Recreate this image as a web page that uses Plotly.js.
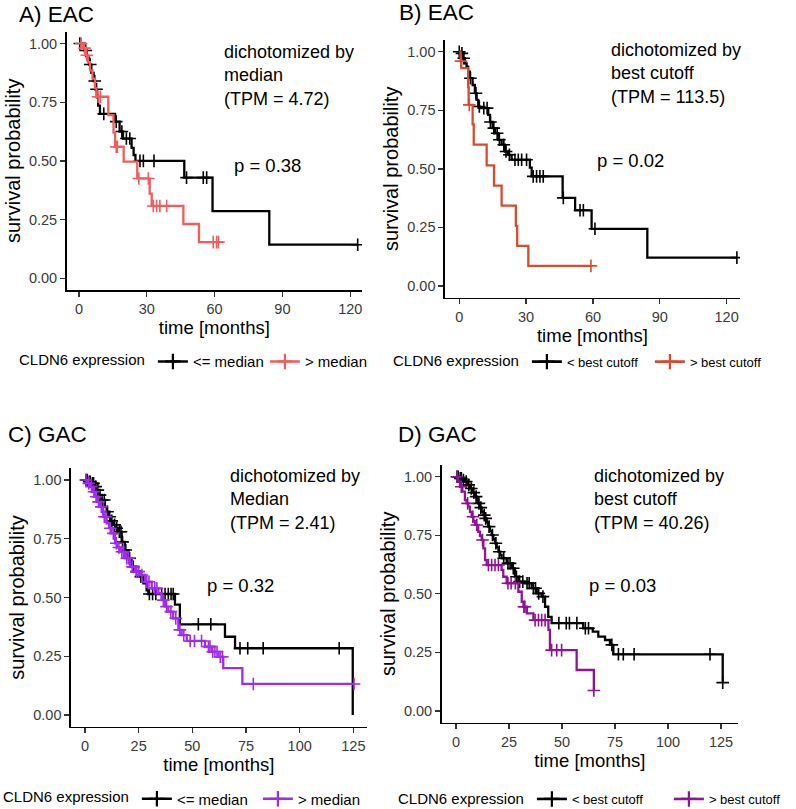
<!DOCTYPE html>
<html>
<head>
<meta charset="utf-8">
<script src="https://cdn.plot.ly/plotly-3.0.1.min.js"></script>
<style>html,body{margin:0;padding:0;background:#fff;}#chart{width:796px;height:809px;}</style>
</head>
<body>
<div id="chart"></div>
<script>
// ---------- DATA ----------
// Panel A) EAC, dichotomized by median
const A_low_eventT = [2.5, 3.5, 4.5, 5.5, 6.5, 7.2, 8.0, 8.5, 9.3, 16.0, 18.0, 19.5, 23.3, 24.2, 25.0, 46.6, 59.1, 84.2];
const A_low_eventS = [0.97, 0.94, 0.91, 0.875, 0.84, 0.805, 0.77, 0.735, 0.70, 0.667, 0.625, 0.595, 0.555, 0.525, 0.50, 0.4286, 0.2857, 0.1429];
const A_low_censT  = [0.4, 3.0, 5.0, 7.0, 7.8, 11.0, 16.5, 19.0, 21.0, 22.5, 27.0, 28.5, 33.2, 47.6, 55.0, 56.5, 123.3];
const A_high_eventT = [1.9, 3.1, 4.1, 4.9, 6.0, 7.1, 7.8, 13.0, 15.3, 16.0, 19.8, 25.8, 31.3, 32.2, 46.2, 53.1];
const A_high_eventS = [0.98, 0.95, 0.92, 0.885, 0.85, 0.81, 0.773, 0.695, 0.62, 0.56, 0.497, 0.425, 0.36, 0.308, 0.231, 0.154];
const A_high_censT  = [1.0, 2.5, 3.5, 8.5, 9.5, 16.5, 17.0, 26.5, 30.7, 32.9, 34.4, 35.8, 38.8, 59.4, 60.9, 61.7];

// Panel B) EAC, dichotomized by best cutoff
const B_low_eventT = [1.0, 1.8, 2.5, 3.3, 4.0, 4.8, 6.0, 7.0, 7.8, 8.5, 9.3, 13.0, 13.8, 15.0, 16.0, 17.5, 19.0, 20.5, 22.0, 23.5, 31.7, 32.5, 46.4, 52.0, 59.4, 84.4];
const B_low_eventS = [0.993, 0.972, 0.95, 0.936, 0.915, 0.887, 0.858, 0.823, 0.794, 0.766, 0.759, 0.73, 0.70, 0.674, 0.652, 0.624, 0.603, 0.574, 0.56, 0.539, 0.505, 0.468, 0.376, 0.323, 0.244, 0.121];
const B_low_censT  = [0.0, 1.2, 2.0, 5.0, 7.5, 9.0, 11.0, 12.5, 14.0, 15.5, 17.0, 18.0, 20.0, 21.0, 22.5, 25.0, 26.5, 28.0, 30.2, 33.2, 34.7, 36.2, 37.7, 46.7, 54.2, 55.7, 60.9, 124.6];
const B_high_eventT = [0.6, 0.9, 4.0, 4.2, 6.0, 6.5, 12.3, 15.6, 19.0, 25.4, 26.0, 31.0];
const B_high_eventS = [0.96, 0.93, 0.85, 0.773, 0.69, 0.603, 0.515, 0.428, 0.343, 0.257, 0.171, 0.086];
const B_high_censT  = [0.8, 4.5, 59.1];

// Panel C) GAC, dichotomized by median
const C_low_eventT = [1.5, 3.1, 4.3, 5.4, 6.6, 7.8, 9.3, 10.1, 10.9, 12.0, 13.2, 14.4, 15.5, 17.1, 18.6, 20.2, 21.7, 23.3, 25.6, 27.2, 28.7, 29.5, 41.9, 44.2, 65.2, 69.9, 124.7];
const C_low_eventS = [0.993, 0.986, 0.972, 0.957, 0.936, 0.915, 0.886, 0.865, 0.844, 0.826, 0.809, 0.795, 0.78, 0.737, 0.702, 0.667, 0.631, 0.61, 0.589, 0.56, 0.53, 0.515, 0.47, 0.386, 0.333, 0.284, 0.0];
const C_low_censT  = [0.5, 1.0, 2.0, 2.5, 3.5, 4.0, 5.0, 6.0, 7.0, 8.0, 9.0, 10.5, 11.5, 12.5, 13.8, 14.8, 16.0, 16.8, 17.5, 19.0, 20.8, 22.5, 24.0, 26.0, 30.0, 31.5, 33.0, 35.7, 37.3, 38.8, 40.1, 41.1, 52.8, 58.6, 72.2, 75.8, 83.0, 118.4];
const C_high_eventT = [1.2, 2.3, 3.5, 4.7, 5.8, 7.0, 8.5, 10.1, 11.2, 12.4, 14.0, 15.2, 16.3, 18.6, 21.0, 23.3, 25.6, 27.9, 31.1, 34.2, 35.7, 37.3, 38.8, 41.1, 43.5, 45.0, 47.4, 55.9, 59.0, 62.1, 64.4, 73.3];
const C_high_eventS = [0.986, 0.972, 0.95, 0.929, 0.907, 0.886, 0.844, 0.816, 0.795, 0.773, 0.731, 0.713, 0.695, 0.667, 0.631, 0.61, 0.596, 0.567, 0.539, 0.518, 0.489, 0.461, 0.44, 0.411, 0.362, 0.34, 0.315, 0.291, 0.269, 0.248, 0.199, 0.132];
const C_high_censT  = [0.5, 1.8, 3.0, 4.2, 5.2, 6.3, 7.6, 9.0, 9.8, 11.8, 13.2, 14.6, 15.8, 17.2, 18.0, 19.5, 20.3, 22.0, 24.0, 25.0, 26.5, 28.8, 29.8, 32.5, 33.5, 36.5, 38.0, 40.0, 42.3, 44.2, 46.0, 49.0, 51.0, 54.3, 57.5, 58.2, 59.5, 60.5, 61.5, 63.0, 64.0, 78.4, 125.3];

// Panel D) GAC, dichotomized by best cutoff
const D_low_eventT = [1.5, 3.0, 4.2, 5.4, 6.6, 7.8, 9.0, 9.8, 10.5, 11.3, 12.1, 12.9, 13.7, 14.5, 15.2, 16.0, 16.8, 17.6, 18.4, 19.2, 20.0, 20.8, 21.5, 23.9, 26.3, 27.8, 29.4, 32.5, 35.7, 38.1, 40.4, 42.0, 43.5, 45.1, 60.0, 64.5, 67.1, 70.3, 72.6, 74.2, 125.8];
const D_low_eventS = [0.993, 0.986, 0.979, 0.965, 0.95, 0.932, 0.915, 0.90, 0.886, 0.868, 0.851, 0.836, 0.822, 0.805, 0.787, 0.769, 0.751, 0.733, 0.716, 0.698, 0.68, 0.666, 0.652, 0.63, 0.609, 0.573, 0.552, 0.545, 0.524, 0.502, 0.488, 0.445, 0.402, 0.375, 0.353, 0.339, 0.317, 0.303, 0.282, 0.242, 0.121];
const D_low_censT  = [0.5, 1.0, 2.0, 2.5, 3.5, 4.8, 6.0, 7.2, 8.4, 9.5, 10.8, 11.7, 13.3, 14.0, 15.6, 17.2, 18.8, 20.4, 22.5, 24.5, 25.5, 27.0, 28.5, 30.0, 31.5, 33.5, 34.5, 36.5, 37.5, 39.0, 41.0, 48.5, 52.0, 53.5, 57.0, 61.0, 62.5, 73.5, 76.6, 78.9, 84.0, 119.8, 125.8];
const D_high_eventT = [1.0, 1.9, 3.0, 4.2, 5.0, 5.8, 6.6, 7.4, 8.2, 9.0, 10.5, 11.3, 12.1, 12.9, 13.7, 14.5, 21.5, 22.3, 23.9, 29.4, 31.0, 31.8, 33.4, 36.5, 43.6, 44.3, 56.9, 65.0];
const D_high_eventS = [0.979, 0.957, 0.936, 0.90, 0.886, 0.872, 0.85, 0.829, 0.81, 0.794, 0.765, 0.748, 0.73, 0.694, 0.644, 0.623, 0.602, 0.573, 0.545, 0.509, 0.466, 0.445, 0.417, 0.388, 0.346, 0.26, 0.175, 0.0875];
const D_high_censT  = [0.5, 2.5, 5.5, 8.0, 9.8, 12.5, 15.3, 16.8, 18.4, 20.0, 24.5, 26.0, 28.0, 32.0, 32.5, 37.3, 38.9, 40.4, 42.0, 45.1, 47.5, 49.8, 65.0];

// Labels
const panelTitles = ["A) EAC", "B) EAC", "C) GAC", "D) GAC"];
const methodText = ["dichotomized by<br>median<br>(TPM = 4.72)", "dichotomized by<br>best cutoff<br>(TPM = 113.5)",
                    "dichotomized by<br>Median<br>(TPM = 2.41)", "dichotomized by<br>best cutoff<br>(TPM = 40.26)"];
const pValues = ["p = 0.38", "p = 0.02", "p = 0.32", "p = 0.03"];
const groupNames = [["<= median", "> median"], ["< best cutoff", "> best cutoff"], ["<= median", "> median"], ["< best cutoff", "> best cutoff"]];
const legendTitle = "CLDN6 expression";
const xTicksEAC = [0, 30, 60, 90, 120];
const xTicksGAC = [0, 25, 50, 75, 100, 125];
const yTicks = [0, 0.25, 0.5, 0.75, 1.0];

// ---------- STYLE ----------
const W = 796, H = 809;
const colors = [["#000000", "#F15C5C"], ["#000000", "#D94A2E"], ["#000000", "#A12BEB"], ["#000000", "#8F1394"]];
const FONT = "Liberation Sans, Arial, Helvetica, sans-serif";
const px = v => v / W, py = v => 1 - v / H;

function survAt(t, eT, eS) {
  let s = 1;
  for (let i = 0; i < eT.length; i++) if (eT[i] <= t) s = eS[i];
  return s;
}

const curves = [
  [[A_low_eventT, A_low_eventS, A_low_censT], [A_high_eventT, A_high_eventS, A_high_censT]],
  [[B_low_eventT, B_low_eventS, B_low_censT], [B_high_eventT, B_high_eventS, B_high_censT]],
  [[C_low_eventT, C_low_eventS, C_low_censT], [C_high_eventT, C_high_eventS, C_high_censT]],
  [[D_low_eventT, D_low_eventS, D_low_censT], [D_high_eventT, D_high_eventS, D_high_censT]]
];

const traces = [];
curves.forEach((pair, p) => {
  const ax = p === 0 ? "" : String(p + 1);
  const leg = p === 0 ? "legend" : "legend" + (p + 1);
  pair.forEach((c, g) => {
    const [eT, eS, cT] = c;
    const tEnd = Math.max(eT[eT.length - 1], cT.length ? cT[cT.length - 1] : 0);
    const xs = [0].concat(eT, [tEnd]);
    const ys = [1].concat(eS, [eS[eS.length - 1]]);
    const col = colors[p][g];
    traces.push({x: xs, y: ys, xaxis: "x" + ax, yaxis: "y" + ax, mode: "lines",
      line: {shape: "hv", color: col, width: 2.3}, showlegend: false, hoverinfo: "skip"});
    traces.push({x: cT, y: cT.map(t => survAt(t, eT, eS)), xaxis: "x" + ax, yaxis: "y" + ax, mode: "markers",
      marker: {symbol: "cross-thin", size: 9, color: col, line: {color: col, width: 1.6}}, showlegend: false, hoverinfo: "skip"});
    traces.push({x: [null], y: [null], xaxis: "x" + ax, yaxis: "y" + ax, mode: "lines+markers", name: groupNames[p][g],
      legend: leg, line: {color: col, width: 2.6},
      marker: {symbol: "cross-thin", size: 11, color: col, line: {color: col, width: 2.2}}});
  });
});

// ---------- LAYOUT ----------
const doms = [
  {x: [66.7, 362], y: [31.7, 290], xr: [-5.4, 125.2], xt: xTicksEAC},
  {x: [445, 740], y: [40, 297.7], xr: [-6.4, 126], xt: xTicksEAC},
  {x: [71, 366.7], y: [468.3, 726.7], xr: [-6.5, 131.2], xt: xTicksGAC},
  {x: [441.7, 738], y: [465, 722.7], xr: [-6.75, 133], xt: xTicksGAC}
];

const layout = {
  width: W, height: H, margin: {l: 0, r: 0, t: 0, b: 0, autoexpand: false},
  paper_bgcolor: "#ffffff", plot_bgcolor: "#ffffff",
  font: {family: FONT, color: "#000"},
  annotations: [], showlegend: true
};

doms.forEach((d, i) => {
  const sfx = i === 0 ? "" : String(i + 1);
  layout["xaxis" + sfx] = {
    domain: [px(d.x[0]), px(d.x[1])], range: d.xr, anchor: "y" + sfx,
    tickvals: d.xt, ticks: "outside", ticklen: 5, tickwidth: 1.3, tickcolor: "#333",
    showline: true, linecolor: "#000", linewidth: 1.6, showgrid: false, zeroline: false,
    tickfont: {size: 14.5, color: "#3a3a3a", family: FONT},
    title: {text: "time [months]", font: {size: 18.5, color: "#000", family: FONT}, standoff: 2}
  };
  layout["yaxis" + sfx] = {
    domain: [py(d.y[1]), py(d.y[0])], range: [-0.05, 1.05], anchor: "x" + sfx,
    tickvals: yTicks, tickformat: ".2f", ticks: "outside", ticklen: 5, tickwidth: 1.3, tickcolor: "#333",
    showline: true, linecolor: "#000", linewidth: 1.6, showgrid: false, zeroline: false,
    tickfont: {size: 14.5, color: "#3a3a3a", family: FONT},
    title: {text: "survival probability", font: {size: 20, color: "#000", family: FONT}, standoff: 3}
  };
});

const titlePos = [[17, 14], [397, 13], [6, 434], [396, 434]];
const methodPos = [[222, 75], [608.5, 73.7], [227.5, 499.3], [592, 499.3]];
const pPos = [[232, 165.7], [595, 160], [205, 585.7], [586.5, 585]];
for (let i = 0; i < 4; i++) {
  layout.annotations.push({text: panelTitles[i], xref: "paper", yref: "paper", x: px(titlePos[i][0]), y: py(titlePos[i][1]),
    xanchor: "left", yanchor: "middle", showarrow: false, font: {size: 22.5, color: "#000", family: FONT}});
  layout.annotations.push({text: methodText[i], xref: "paper", yref: "paper", x: px(methodPos[i][0]), y: py(methodPos[i][1]),
    xanchor: "left", yanchor: "middle", align: "left", showarrow: false, font: {size: 18, color: "#000", family: FONT}});
  layout.annotations.push({text: pValues[i], xref: "paper", yref: "paper", x: px(pPos[i][0]), y: py(pPos[i][1]),
    xanchor: "left", yanchor: "middle", showarrow: false, font: {size: 18.5, color: "#000", family: FONT}});
}

// [left px, center y px, item font size, entry width]
const legPos = [[17, 361.7, 15, 67], [391, 361.7, 13, 78], [1, 799, 15, 76], [396, 799, 13, 92]];
legPos.forEach((lp, i) => {
  const key = i === 0 ? "legend" : "legend" + (i + 1);
  layout[key] = {
    orientation: "h", x: px(lp[0]), y: py(lp[1]), xanchor: "left", yanchor: "middle",
    bgcolor: "rgba(0,0,0,0)", borderwidth: 0, itemwidth: 30,
    entrywidth: lp[3], entrywidthmode: "pixels",
    title: {text: legendTitle, side: "left", font: {size: 15, color: "#000", family: FONT}},
    font: {size: lp[2], color: "#000", family: FONT}
  };
});

Plotly.newPlot("chart", traces, layout, {staticPlot: true, displayModeBar: false});
</script>
</body>
</html>
